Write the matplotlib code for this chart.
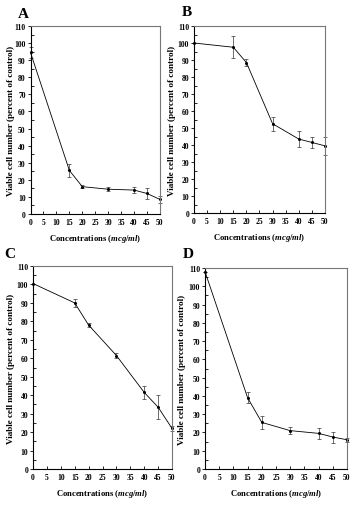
import matplotlib
matplotlib.use('Agg')
import matplotlib.pyplot as plt
from matplotlib.ticker import MultipleLocator

plt.rcParams['font.family'] = ['Liberation Serif', 'DejaVu Serif']
plt.rcParams['font.weight'] = 'bold'
plt.rcParams['mathtext.fontset'] = 'custom'
plt.rcParams['mathtext.rm'] = 'Liberation Serif:bold'
plt.rcParams['mathtext.it'] = 'Liberation Serif:italic:bold'

# 농도 (mcg/ml)
conc = [0, 15, 20, 30, 40, 45, 50]

# 패널별 생존 세포 수 (% of control) 및 오차
a_vals = [94.5, 25.5, 16, 14.5, 14, 12, 8.5]
a_err = [3.5, 4, 0.8, 1.2, 2, 3.5, 2]
b_vals = [100, 97.5, 88.5, 52.5, 43.5, 41.5, 39.5]
b_err = [0, 6.5, 2, 4, 4.5, 3, 5.5]
c_vals = [100.5, 90, 78, 61.5, 41.5, 33.5, 22]
c_err = [0, 2, 1, 1.5, 3.5, 6.5, 1.5]
d_vals = [108, 39, 25.5, 21, 19.5, 17.5, 16]
d_err = [0, 3, 3.5, 2, 3, 3, 1]

panels = [
    ('A', a_vals, a_err, [30.5, 27, 160, 215], (23, 14), 11),
    ('B', b_vals, b_err, [194, 27, 325, 214], (187, 13), 172),
    ('C', c_vals, c_err, [33, 267, 172, 470], (10, 255), 11),
    ('D', d_vals, d_err, [205, 269, 347, 470], (188, 255), 182),
]

W, H = 357, 506
fig = plt.figure(figsize=(W / 100, H / 100), dpi=100)

for name, vals, err, (x0, y0, x1, y1), (lx, ly), ylx in panels:
    ax = fig.add_axes([x0 / W, 1 - y1 / H, (x1 - x0) / W, (y1 - y0) / H])
    ax.errorbar(conc, vals, yerr=err, color='black', lw=0.6, marker='o',
                ms=1.2, elinewidth=0.5, ecolor='#333333', capsize=1.2,
                capthick=0.5, clip_on=False)
    ax.set_xlim(0, 50)
    ax.set_ylim(0, 110)
    ax.xaxis.set_major_locator(MultipleLocator(5))
    ax.yaxis.set_major_locator(MultipleLocator(10))
    ax.yaxis.set_minor_locator(MultipleLocator(5))
    ax.tick_params(axis='x', direction='in', length=2.5, width=0.6,
                   labelsize=5.5, pad=3)
    ax.tick_params(axis='y', which='major', direction='out', length=2.5,
                   width=0.6, labelsize=5.5, pad=1)
    ax.tick_params(axis='y', which='minor', direction='in', length=2,
                   width=0.6)
    for lab in ax.get_xticklabels() + ax.get_yticklabels():
        lab.set_fontweight('bold')
    for s in ['left', 'bottom']:
        ax.spines[s].set_linewidth(0.8)
        ax.spines[s].set_color('black')
    for s in ['top', 'right']:
        ax.spines[s].set_linewidth(0.8)
        ax.spines[s].set_color('#777777')
    ax.set_xlabel(r'Concentrations ($\mathit{mcg/ml}$)', fontsize=6.2,
                  fontweight='bold', labelpad=4)
    fig.text(ylx / W, 1 - ((y0 + y1) / 2) / H,
             'Viable cell number (percent of control)', rotation=90,
             fontsize=6.6, fontweight='bold', ha='center', va='center')
    fig.text(lx / W, 1 - ly / H, name, fontsize=11, fontweight='bold',
             ha='center', va='center')

plt.savefig('out.png', dpi=100)
